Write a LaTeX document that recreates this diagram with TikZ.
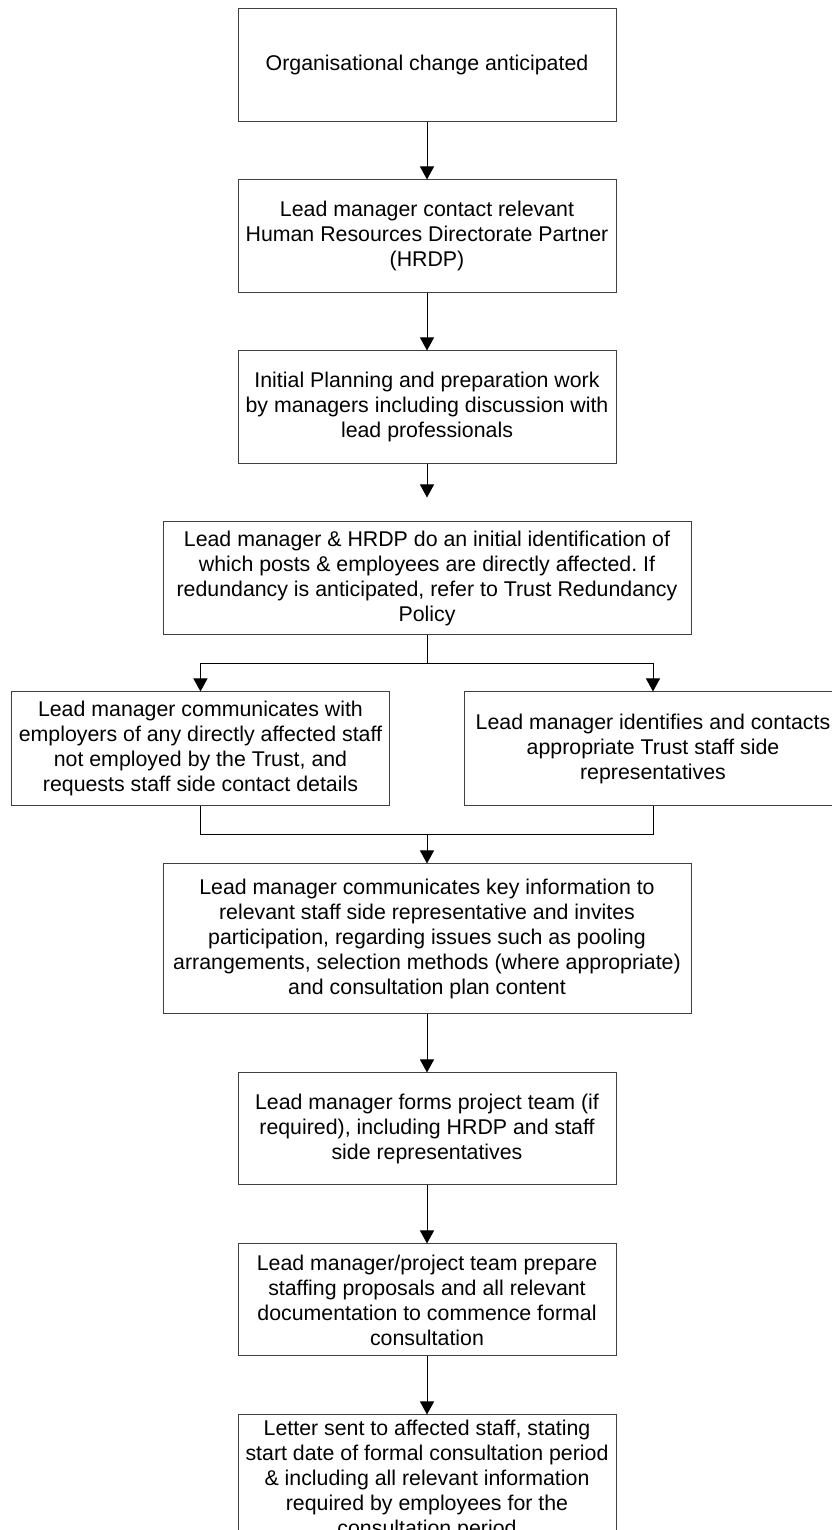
\documentclass[tikz,border=0pt]{standalone}
\usepackage{fontspec}
\setmainfont{Liberation Sans}
\usetikzlibrary{arrows.meta,positioning}
\frenchspacing

\begin{document}
\begin{tikzpicture}[
      node distance=42.75pt,
      >={Triangle[width=10.5pt,length=9.75pt]},
      every node/.style={font=\fontsize{16pt}{18.75pt}\selectfont, align=center},
      process/.style={rectangle, draw=black!75, line width=0.75pt,
            minimum width=283.5pt, minimum height=84.75pt, inner sep=3pt},
      wideprocess/.style={process, minimum width=396pt},
      line/.style={->, line width=0.75pt}
]
\useasboundingbox (0,0) rectangle (623.25pt,-1147.5pt);
\node[process] (anticipated) at (320.25pt,-49.1pt) {Organisational change anticipated};
\node[process, below=of anticipated] (hrdp) {Lead manager contact relevant\\
Human Resources Directorate Partner\\(HRDP)};
\node[process, below=of hrdp] (planning) {Initial Planning and preparation work\\
by managers including discussion with\\lead professionals};
\node[wideprocess, below=of planning] (identify) {Lead manager \& HRDP do an initial identification of\\
which posts \& employees are directly affected. If\\
redundancy is anticipated, refer to Trust Redundancy\\Policy};
\coordinate[below=21pt of identify] (split);
\node[process, minimum height=85.5pt, below=21pt of split, xshift=-169.9pt] (employers)
      {Lead manager communicates with\\employers of any directly affected staff\\
not employed by the Trust, and\\requests staff side contact details};
\node[process, minimum height=85.5pt, below=21pt of split, xshift=169.5pt] (staffside)
      {Lead manager identifies and contacts\\appropriate Trust staff side\\representatives};
\coordinate[below=21pt of employers] (joinleft);
\coordinate (join) at (joinleft -| split);
\node[wideprocess, minimum height=112.5pt, below=21.75pt of join] (communicate)
      {Lead manager communicates key information to\\
relevant staff side representative and invites\\
participation, regarding issues such as pooling\\
arrangements, selection methods (where appropriate)\\
and consultation plan content};
\node[process, minimum height=84pt, below=43.5pt of communicate] (team)
      {Lead manager forms project team (if\\required), including HRDP and staff\\
side representatives};
\node[process, minimum height=84pt, below=43.5pt of team] (proposals)
      {Lead manager/project team prepare\\staffing proposals and all relevant\\
documentation to commence formal\\consultation};
\node[process, minimum height=97.5pt, below=43.5pt of proposals] (letter)
      {Letter sent to affected staff, stating\\start date of formal consultation period\\
\& including all relevant information\\required by employees for the\\
consultation period};

\draw[line] (anticipated) -- (hrdp);
\draw[line] (hrdp) -- (planning);
\draw[line, shorten >=18pt] (planning) -- (identify);
\draw[line width=0.75pt] (identify) -- (split);
\draw[line] (split) -| (employers);
\draw[line] (split) -| (staffside);
\draw[line width=0.75pt] (employers) -- (joinleft) -| (staffside);
\draw[line] (join) -- (communicate);
\draw[line] (communicate) -- (team);
\draw[line] (team) -- (proposals);
\draw[line] (proposals) -- (letter);
\end{tikzpicture}
\end{document}
